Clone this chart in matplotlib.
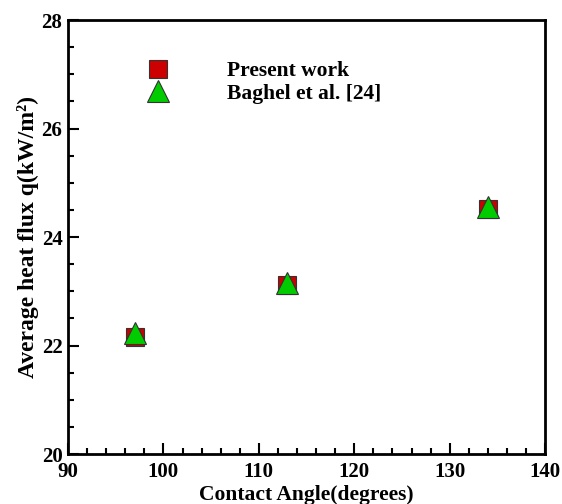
import matplotlib
matplotlib.use("Agg")
import matplotlib.pyplot as plt
from matplotlib.ticker import MultipleLocator

contact_angle = [97, 113, 134]
present_work = [22.15, 23.12, 24.52]
baghel = [22.23, 23.16, 24.55]

plt.rcParams['font.family'] = ['Liberation Serif', 'DejaVu Serif']
plt.rcParams['font.weight'] = 'bold'

fig = plt.figure(figsize=(5.62, 5.04), dpi=100)
ax = fig.add_axes([0.121, 0.0992, 0.849, 0.861])

ax.plot(contact_angle, present_work, linestyle='none', marker='s', markersize=13.5,
        markerfacecolor='#cc0000', markeredgecolor='#333333', markeredgewidth=0.8,
        label='Present work')
ax.plot(contact_angle, baghel, linestyle='none', marker='^', markersize=16.5,
        markerfacecolor='#00cc00', markeredgecolor='#333333', markeredgewidth=0.8,
        label='Baghel et al. [24]')

ax.set_xlim(90, 140)
ax.set_ylim(20, 28)
ax.xaxis.set_major_locator(MultipleLocator(10))
ax.xaxis.set_minor_locator(MultipleLocator(2))
ax.yaxis.set_major_locator(MultipleLocator(2))
ax.yaxis.set_minor_locator(MultipleLocator(0.5))
ax.tick_params(which='both', direction='in', top=False, right=False, width=1.5)
ax.tick_params(which='major', length=8, labelsize=15)
ax.tick_params(axis='x', which='major', pad=6)
ax.tick_params(axis='y', which='major', pad=4)
ax.tick_params(which='minor', length=4)
for s in ax.spines.values():
    s.set_linewidth(2)
for lab in ax.get_xticklabels() + ax.get_yticklabels():
    lab.set_fontweight('bold')

ax.set_xlabel('Contact Angle(degrees)', fontsize=15.5, fontweight='bold', labelpad=2)
ax.set_ylabel('Average heat flux q(kW/m²)', fontsize=17, fontweight='bold', labelpad=2)

ax.legend(loc='upper left', bbox_to_anchor=(0.1436, 0.905), frameon=False, numpoints=1,
          borderpad=0, borderaxespad=0,
          handlelength=2.0, handletextpad=2.2, labelspacing=0.1,
          prop={'family': 'Liberation Serif', 'weight': 'bold', 'size': 15.5})

fig.savefig('out.png', dpi=100)
